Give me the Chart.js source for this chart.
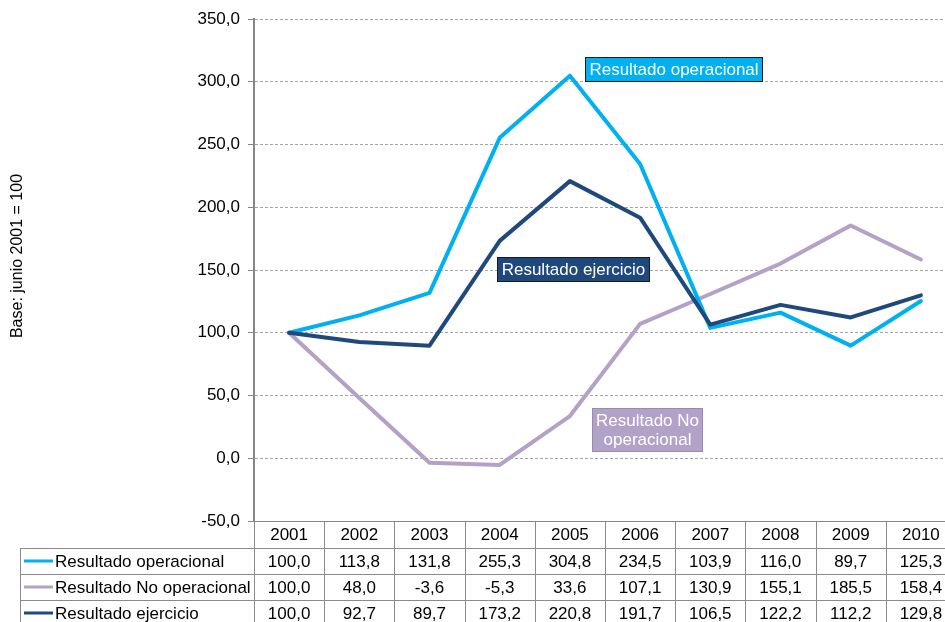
<!DOCTYPE html>
<html><head><meta charset="utf-8">
<script src="https://cdn.jsdelivr.net/npm/chart.js@4.4.1/dist/chart.umd.min.js"></script>
<style>
html,body{margin:0;padding:0;background:#fff;overflow:hidden;width:945px;height:622px}
#wrap{width:960px;height:622px;position:relative}
</style>
</head><body>
<div id="wrap"><canvas id="c" width="960" height="622"></canvas></div>
<script>
// ---- data ----
const years = ['2001','2002','2003','2004','2005','2006','2007','2008','2009','2010'];
const operacional   = [100.0, 113.8, 131.8, 255.3, 304.8, 234.5, 103.9, 116.0,  89.7, 125.3];
const noOperacional = [100.0,  48.0,  -3.6,  -5.3,  33.6, 107.1, 130.9, 155.1, 185.5, 158.4];
const ejercicio     = [100.0,  92.7,  89.7, 173.2, 220.8, 191.7, 106.5, 122.2, 112.2, 129.8];
const seriesNames = ['Resultado operacional', 'Resultado No operacional', 'Resultado ejercicio'];
const yTicks = [-50, 0, 50, 100, 150, 200, 250, 300, 350];
const yTitle = 'Base: junio 2001 = 100';

// ---- styles ----
const FONT = '"Liberation Sans", Arial, sans-serif';
const C_OP = '#00B0F0', C_NO = '#B3A2C7', C_EJ = '#1F497D';
const GRAY = '#868686';
const fmt = v => v.toFixed(1).replace('.', ',');

// annotation labels anchored to scale values (x index, y value of top-left corner)
const callouts = [
  {lines: ['Resultado operacional'], xIdx: 4.22, yVal: 319.5, bg: C_OP, border: '#1a1a1a'},
  {lines: ['Resultado ejercicio'], xIdx: 2.96, yVal: 160.2, bg: C_EJ, border: '#1a1a1a'},
  {lines: ['Resultado No', 'operacional'], xIdx: 4.31, yVal: 39.8, bg: C_NO, border: '#9a8ab0', w: 110}
];

const calloutPlugin = {
  id: 'callouts',
  afterDatasetsDraw(chart) {
    const ctx = chart.ctx, xs = chart.scales.x, ys = chart.scales.y;
    ctx.save();
    ctx.font = '17px ' + FONT;
    callouts.forEach(c => {
      const x = Math.round(xs.getPixelForValue(c.xIdx)) + 0.5;
      const y = Math.round(ys.getPixelForValue(c.yVal)) + 0.5;
      const tw = Math.max(...c.lines.map(l => ctx.measureText(l).width));
      const w = c.w || Math.round(tw + 8);
      const lh = 19;
      const h = c.lines.length * lh + 5;
      ctx.fillStyle = c.bg;
      ctx.fillRect(x, y, w, h);
      ctx.strokeStyle = c.border; ctx.lineWidth = 1;
      ctx.strokeRect(x, y, w, h);
      ctx.fillStyle = '#fff';
      ctx.textAlign = 'center'; ctx.textBaseline = 'middle';
      c.lines.forEach((l, i) => ctx.fillText(l, x + w / 2, y + 3 + lh / 2 + i * lh));
    });
    ctx.restore();
  }
};

const tablePlugin = {
  id: 'dataTable',
  afterDraw(chart) {
    const ctx = chart.ctx, xs = chart.scales.x, area = chart.chartArea;
    const step = xs.getPixelForValue(1) - xs.getPixelForValue(0);
    const left0 = xs.getPixelForValue(0) - step / 2;
    const right = xs.getPixelForValue(years.length - 1) + step / 2;
    const top = area.bottom;
    const headerH = 27, rowH = 26, tableLeft = 20.5;
    const rowsData = [operacional, noOperacional, ejercicio];
    const colors = [C_OP, C_NO, C_EJ];
    const bottom = top + headerH + rowH * 3;
    ctx.save();
    ctx.strokeStyle = '#8a8a8a'; ctx.lineWidth = 1;
    for (let r = 0; r <= 3; r++) {
      const y = Math.round(top + headerH + r * rowH) + 0.5;
      ctx.beginPath(); ctx.moveTo(tableLeft, y); ctx.lineTo(right, y); ctx.stroke();
    }
    ctx.beginPath(); ctx.moveTo(tableLeft, top + headerH); ctx.lineTo(tableLeft, bottom); ctx.stroke();
    for (let i = 0; i <= years.length; i++) {
      const x = Math.round(left0 + i * step) + 0.5;
      ctx.beginPath(); ctx.moveTo(x, top); ctx.lineTo(x, bottom); ctx.stroke();
    }
    ctx.font = '17px ' + FONT;
    ctx.fillStyle = '#000';
    ctx.textBaseline = 'middle';
    ctx.textAlign = 'center';
    years.forEach((yr, i) => ctx.fillText(yr, xs.getPixelForValue(i), top + headerH / 2 + 1));
    rowsData.forEach((arr, r) => {
      const cy = top + headerH + r * rowH + rowH / 2 + 1;
      ctx.textAlign = 'center';
      ctx.fillStyle = '#000';
      arr.forEach((v, i) => ctx.fillText(fmt(v), xs.getPixelForValue(i), cy));
      ctx.strokeStyle = colors[r]; ctx.lineWidth = 3;
      ctx.beginPath(); ctx.moveTo(24, cy - 1); ctx.lineTo(53, cy - 1); ctx.stroke();
      ctx.textAlign = 'left';
      ctx.fillText(seriesNames[r], 55, cy);
    });
    ctx.save();
    ctx.translate(18, 256);
    ctx.rotate(-Math.PI / 2);
    ctx.textAlign = 'center'; ctx.textBaseline = 'middle';
    ctx.font = '16px ' + FONT;
    ctx.fillStyle = '#000';
    ctx.fillText(yTitle, 0, 0);
    ctx.restore();
    ctx.restore();
  }
};

const lineDs = (label, data, color) => ({
  label, data, borderColor: color, backgroundColor: color,
  borderWidth: 4, pointRadius: 0, tension: 0, fill: false,
  borderJoinStyle: 'round', borderCapStyle: 'round'
});

new Chart(document.getElementById('c'), {
  type: 'line',
  data: {
    labels: years,
    datasets: [
      lineDs(seriesNames[2], ejercicio, C_EJ),
      lineDs(seriesNames[0], operacional, C_OP),
      lineDs(seriesNames[1], noOperacional, C_NO)
    ]
  },
  options: {
    responsive: false,
    animation: false,
    events: [],
    layout: {padding: {top: 19, right: 4, left: 0, bottom: 0}},
    plugins: {legend: {display: false}, tooltip: {enabled: false}, title: {display: false}},
    scales: {
      x: {
        type: 'category',
        offset: true,
        ticks: {display: false},
        grid: {display: false, drawTicks: false},
        border: {display: true, color: GRAY, width: 1},
        afterFit: s => { s.height = 101; }
      },
      y: {
        min: -50, max: 350,
        afterBuildTicks: s => { s.ticks = yTicks.map(v => ({value: v})); },
        ticks: {
          callback: v => fmt(v),
          font: {family: FONT, size: 17},
          color: '#000',
          padding: 8
        },
        grid: {color: '#a6a6a6', lineWidth: 1, drawTicks: true, tickLength: 6, tickColor: GRAY, tickBorderDash: []},
        border: {display: true, color: GRAY, width: 2, dash: [3, 2]},
        afterFit: s => { s.width = 254; }
      }
    }
  },
  plugins: [calloutPlugin, tablePlugin]
});
</script>
</body></html>
